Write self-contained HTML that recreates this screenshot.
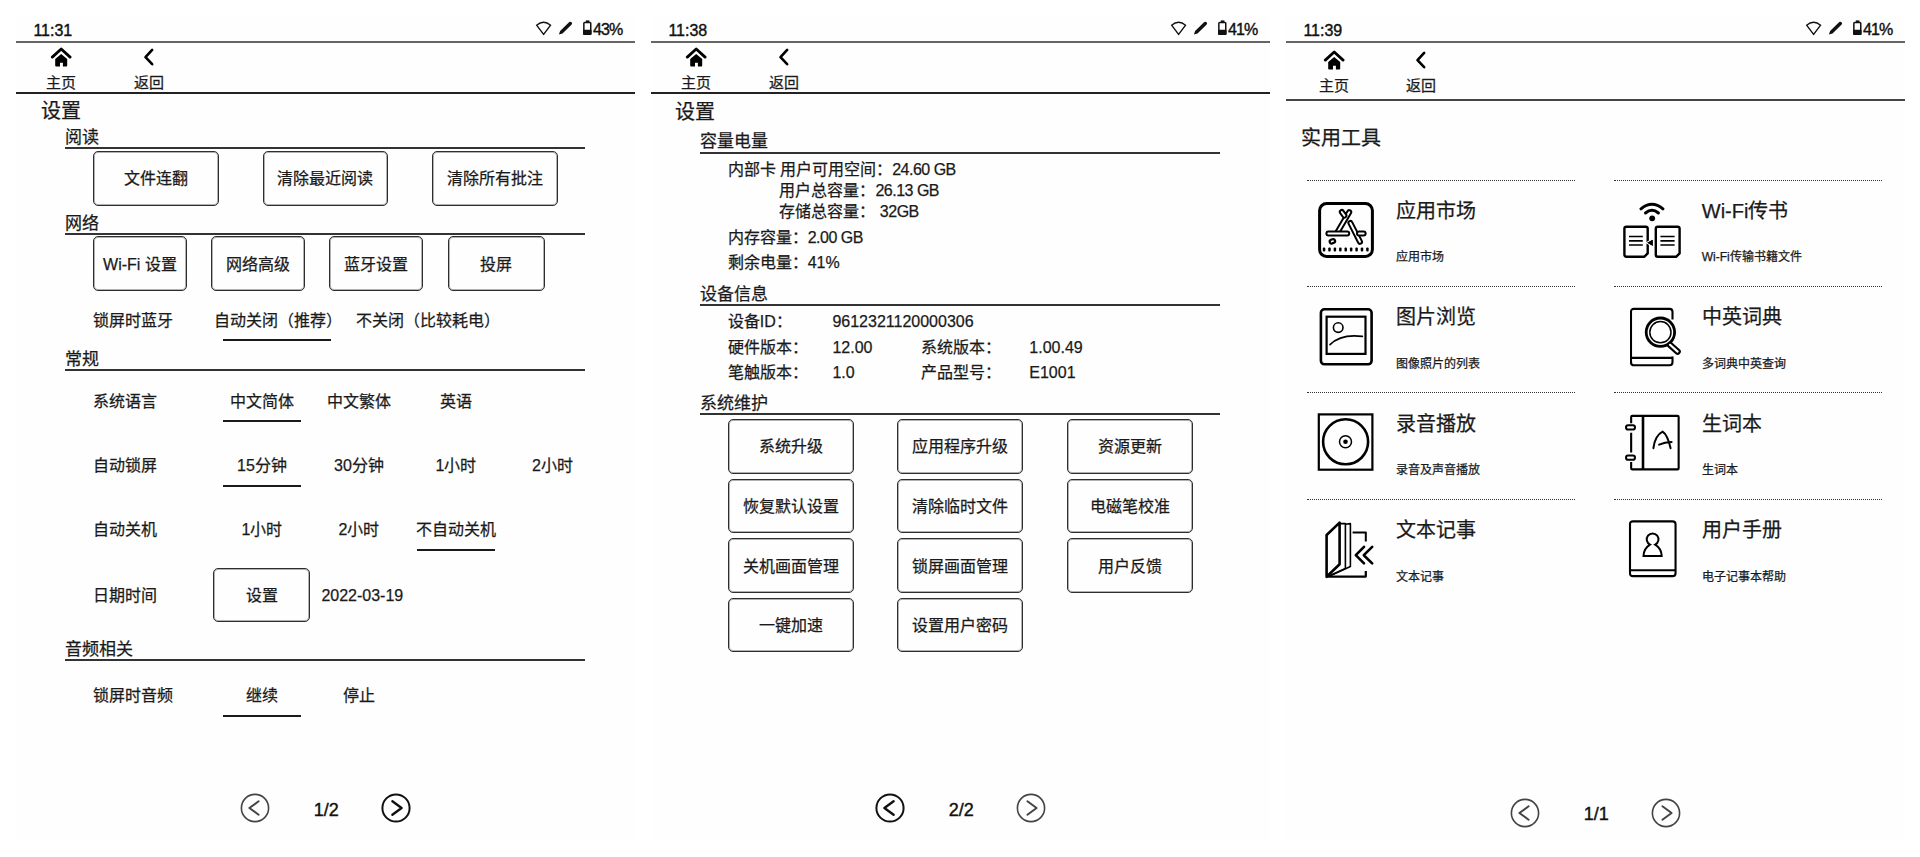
<!DOCTYPE html>
<html lang="zh-CN"><head><meta charset="utf-8"><title>settings</title>
<style>
html,body{margin:0;padding:0;background:#fff;}
body{width:1920px;height:857px;position:relative;overflow:hidden;font-family:"Liberation Sans",sans-serif;color:#1a1a1a;}
.panel{position:absolute;top:15px;height:825px;width:619px;background:#fefefe;}
.t{position:absolute;white-space:nowrap;-webkit-text-stroke-width:0.25px;}
.m{-webkit-text-stroke-width:0.4px;}
.b{position:absolute;display:block;}
.btn{position:absolute;border:1px solid #2e2e2e;box-shadow:inset 0 0 0 1px rgba(0,0,0,0.3);border-radius:5px;box-sizing:border-box;}
.dot{position:absolute;height:1px;border-top:1px dotted #333;}
</style></head><body>

<div class="panel" style="left:16px"></div>
<div class="panel" style="left:651px"></div>
<div class="panel" style="left:1286px"></div>
<div class="t m" style="left:33.4px;top:22.6px;font-size:16px;line-height:16px;color:#111;font-weight:normal;">11:31</div>
<div class="b" style="left:16.0px;top:41.0px;width:619.0px;height:2px;background:#666"></div>
<svg class="b" style="left:535.00px;top:21.00px" width="18" height="15" viewBox="0 0 18 15"><path d="M1.6 4.2 Q8.6 -1.6 15.6 4.2 L8.6 13.4 Z" fill="none" stroke="#111" stroke-width="1.4" stroke-linejoin="round"/></svg>
<svg class="b" style="left:557.00px;top:21.00px" width="16" height="16" viewBox="0 0 16 16"><path d="M1.9 13.5 L3.1 9.9 L12.3 1.1 A1.75 1.75 0 0 1 14.7 3.6 L5.5 12.4 Z" fill="#111"/></svg>
<svg class="b" style="left:582.00px;top:19.00px" width="11" height="17" viewBox="0 0 11 17"><rect x="3.8" y="1.4" width="3.6" height="2" fill="#111"/><rect x="1.85" y="3.55" width="6.9" height="11.7" rx="0.8" fill="none" stroke="#111" stroke-width="1.5"/><rect x="1.1" y="10.8" width="8.4" height="5.2" rx="0.8" fill="#111"/></svg>
<div class="t m" style="left:422.4px;top:22.4px;width:200px;text-align:right;font-size:16px;line-height:16px;color:#111;font-weight:normal;letter-spacing:-0.9px">43%</div>
<svg class="b" style="left:50.00px;top:46.00px" width="22" height="22" viewBox="0 0 22 22"><path d="M2.3 11.1 L11.2 3.0 L20.1 11.1" fill="none" stroke="#000" stroke-width="2.8" stroke-linecap="round" stroke-linejoin="round"/><path d="M11.2 7.9 L5.2 13.0 L5.2 19.6 Q5.2 20.5 6.1 20.5 L10 20.5 L10 16.8 L12.9 16.8 L12.9 20.5 L16.4 20.5 Q17.2 20.5 17.2 19.6 L17.2 13.0 Z" fill="#000"/></svg>
<svg class="b" style="left:142.00px;top:46.00px" width="14" height="22" viewBox="0 0 14 22"><path d="M10.15 3.9 L3.5 11.2 L10.15 18.2" fill="none" stroke="#000" stroke-width="2.6" stroke-linecap="round" stroke-linejoin="round"/></svg>
<div class="t " style="left:46.2px;top:75.0px;font-size:15px;line-height:15px;color:#1a1a1a;font-weight:normal;">主页</div>
<div class="t " style="left:133.7px;top:75.0px;font-size:15px;line-height:15px;color:#1a1a1a;font-weight:normal;">返回</div>
<div class="b" style="left:16.0px;top:92.0px;width:619.0px;height:2px;background:#222"></div>
<div class="t " style="left:41.0px;top:100.6px;font-size:20px;line-height:20px;color:#1a1a1a;font-weight:normal;">设置</div>
<div class="t " style="left:65.0px;top:129.1px;font-size:17px;line-height:17px;color:#1a1a1a;font-weight:normal;">阅读</div>
<div class="b" style="left:65.4px;top:147.0px;width:519.6px;height:2px;background:#333"></div>
<div class="btn" style="left:93.4px;top:150.5px;width:125.3px;height:55.0px"></div>
<div class="t " style="left:56.1px;top:171.2px;width:200px;text-align:center;font-size:16px;line-height:16px;color:#1a1a1a;font-weight:normal">文件连翻</div>
<div class="btn" style="left:262.7px;top:150.5px;width:125.1px;height:55.0px"></div>
<div class="t " style="left:225.2px;top:171.2px;width:200px;text-align:center;font-size:16px;line-height:16px;color:#1a1a1a;font-weight:normal">清除最近阅读</div>
<div class="btn" style="left:432.2px;top:150.5px;width:125.4px;height:55.0px"></div>
<div class="t " style="left:394.9px;top:171.2px;width:200px;text-align:center;font-size:16px;line-height:16px;color:#1a1a1a;font-weight:normal">清除所有批注</div>
<div class="t " style="left:65.0px;top:214.7px;font-size:17px;line-height:17px;color:#1a1a1a;font-weight:normal;">网络</div>
<div class="b" style="left:65.4px;top:233.0px;width:519.6px;height:2px;background:#333"></div>
<div class="btn" style="left:93.4px;top:236.2px;width:93.2px;height:55.2px"></div>
<div class="t " style="left:40.0px;top:257.0px;width:200px;text-align:center;font-size:16px;line-height:16px;color:#1a1a1a;font-weight:normal">Wi-Fi 设置</div>
<div class="btn" style="left:211.2px;top:236.2px;width:93.4px;height:55.2px"></div>
<div class="t " style="left:157.9px;top:257.0px;width:200px;text-align:center;font-size:16px;line-height:16px;color:#1a1a1a;font-weight:normal">网络高级</div>
<div class="btn" style="left:329.4px;top:236.2px;width:93.4px;height:55.2px"></div>
<div class="t " style="left:276.1px;top:257.0px;width:200px;text-align:center;font-size:16px;line-height:16px;color:#1a1a1a;font-weight:normal">蓝牙设置</div>
<div class="btn" style="left:447.5px;top:236.2px;width:97.1px;height:55.2px"></div>
<div class="t " style="left:396.1px;top:257.0px;width:200px;text-align:center;font-size:16px;line-height:16px;color:#1a1a1a;font-weight:normal">投屏</div>
<div class="t " style="left:92.7px;top:312.6px;font-size:16px;line-height:16px;color:#1a1a1a;font-weight:normal;">锁屏时蓝牙</div>
<div class="t " style="left:213.7px;top:312.6px;font-size:16px;line-height:16px;color:#1a1a1a;font-weight:normal;">自动关闭（推荐）</div>
<div class="t " style="left:355.7px;top:312.6px;font-size:16px;line-height:16px;color:#1a1a1a;font-weight:normal;">不关闭（比较耗电）</div>
<div class="b" style="left:223.0px;top:339.0px;width:107.8px;height:2px;background:#1a1a1a"></div>
<div class="t " style="left:65.0px;top:351.1px;font-size:17px;line-height:17px;color:#1a1a1a;font-weight:normal;">常规</div>
<div class="b" style="left:65.4px;top:369.0px;width:519.6px;height:2px;background:#333"></div>
<div class="t " style="left:92.7px;top:393.5px;font-size:16px;line-height:16px;color:#1a1a1a;font-weight:normal;">系统语言</div>
<div class="t " style="left:162.0px;top:393.5px;width:200px;text-align:center;font-size:16px;line-height:16px;color:#1a1a1a;font-weight:normal">中文简体</div>
<div class="t " style="left:259.0px;top:393.5px;width:200px;text-align:center;font-size:16px;line-height:16px;color:#1a1a1a;font-weight:normal">中文繁体</div>
<div class="t " style="left:356.0px;top:393.5px;width:200px;text-align:center;font-size:16px;line-height:16px;color:#1a1a1a;font-weight:normal">英语</div>
<div class="b" style="left:223.0px;top:420.0px;width:77.7px;height:2px;background:#1a1a1a"></div>
<div class="t " style="left:92.7px;top:458.0px;font-size:16px;line-height:16px;color:#1a1a1a;font-weight:normal;">自动锁屏</div>
<div class="t " style="left:162.0px;top:458.0px;width:200px;text-align:center;font-size:16px;line-height:16px;color:#1a1a1a;font-weight:normal">15分钟</div>
<div class="t " style="left:259.0px;top:458.0px;width:200px;text-align:center;font-size:16px;line-height:16px;color:#1a1a1a;font-weight:normal">30分钟</div>
<div class="t " style="left:356.0px;top:458.0px;width:200px;text-align:center;font-size:16px;line-height:16px;color:#1a1a1a;font-weight:normal">1小时</div>
<div class="t " style="left:452.4px;top:458.0px;width:200px;text-align:center;font-size:16px;line-height:16px;color:#1a1a1a;font-weight:normal">2小时</div>
<div class="b" style="left:223.0px;top:484.5px;width:77.7px;height:2px;background:#1a1a1a"></div>
<div class="t " style="left:92.7px;top:522.0px;font-size:16px;line-height:16px;color:#1a1a1a;font-weight:normal;">自动关机</div>
<div class="t " style="left:162.0px;top:522.0px;width:200px;text-align:center;font-size:16px;line-height:16px;color:#1a1a1a;font-weight:normal">1小时</div>
<div class="t " style="left:259.0px;top:522.0px;width:200px;text-align:center;font-size:16px;line-height:16px;color:#1a1a1a;font-weight:normal">2小时</div>
<div class="t " style="left:356.0px;top:522.0px;width:200px;text-align:center;font-size:16px;line-height:16px;color:#1a1a1a;font-weight:normal">不自动关机</div>
<div class="b" style="left:417.0px;top:549.0px;width:77.8px;height:2px;background:#1a1a1a"></div>
<div class="t " style="left:92.7px;top:587.8px;font-size:16px;line-height:16px;color:#1a1a1a;font-weight:normal;">日期时间</div>
<div class="btn" style="left:213.3px;top:567.5px;width:97.0px;height:54.8px"></div>
<div class="t " style="left:161.8px;top:588.1px;width:200px;text-align:center;font-size:16px;line-height:16px;color:#1a1a1a;font-weight:normal">设置</div>
<div class="t " style="left:321.4px;top:587.8px;font-size:16px;line-height:16px;color:#1a1a1a;font-weight:normal;">2022-03-19</div>
<div class="t " style="left:65.0px;top:641.1px;font-size:17px;line-height:17px;color:#1a1a1a;font-weight:normal;">音频相关</div>
<div class="b" style="left:65.4px;top:659.0px;width:519.6px;height:2px;background:#333"></div>
<div class="t " style="left:92.7px;top:688.0px;font-size:16px;line-height:16px;color:#1a1a1a;font-weight:normal;">锁屏时音频</div>
<div class="t " style="left:162.0px;top:688.0px;width:200px;text-align:center;font-size:16px;line-height:16px;color:#1a1a1a;font-weight:normal">继续</div>
<div class="t " style="left:259.0px;top:688.0px;width:200px;text-align:center;font-size:16px;line-height:16px;color:#1a1a1a;font-weight:normal">停止</div>
<div class="b" style="left:223.0px;top:715.0px;width:77.7px;height:2px;background:#1a1a1a"></div>
<svg class="b" style="left:239.80px;top:793.30px" width="30" height="30" viewBox="0 0 30 30"><circle cx="15" cy="15" r="13.6" fill="none" stroke="#444" stroke-width="1.6"/><path d="M18.6 8.3 L9.4 15 L18.6 21.7" fill="none" stroke="#444" stroke-width="2.0" stroke-linecap="round" stroke-linejoin="round"/></svg>
<svg class="b" style="left:381.40px;top:793.30px" width="30" height="30" viewBox="0 0 30 30"><circle cx="15" cy="15" r="13.6" fill="none" stroke="#111" stroke-width="2.0"/><path d="M11.4 8.3 L20.6 15 L11.4 21.7" fill="none" stroke="#111" stroke-width="2.4" stroke-linecap="round" stroke-linejoin="round"/></svg>
<div class="t m" style="left:226.3px;top:800.8px;width:200px;text-align:center;font-size:18px;line-height:18px;color:#111;font-weight:normal">1/2</div>
<div class="t m" style="left:668.4px;top:22.6px;font-size:16px;line-height:16px;color:#111;font-weight:normal;">11:38</div>
<div class="b" style="left:651.0px;top:41.0px;width:619.0px;height:2px;background:#666"></div>
<svg class="b" style="left:1170.00px;top:21.00px" width="18" height="15" viewBox="0 0 18 15"><path d="M1.6 4.2 Q8.6 -1.6 15.6 4.2 L8.6 13.4 Z" fill="none" stroke="#111" stroke-width="1.4" stroke-linejoin="round"/></svg>
<svg class="b" style="left:1192.00px;top:21.00px" width="16" height="16" viewBox="0 0 16 16"><path d="M1.9 13.5 L3.1 9.9 L12.3 1.1 A1.75 1.75 0 0 1 14.7 3.6 L5.5 12.4 Z" fill="#111"/></svg>
<svg class="b" style="left:1217.00px;top:19.00px" width="11" height="17" viewBox="0 0 11 17"><rect x="3.8" y="1.4" width="3.6" height="2" fill="#111"/><rect x="1.85" y="3.55" width="6.9" height="11.7" rx="0.8" fill="none" stroke="#111" stroke-width="1.5"/><rect x="1.1" y="10.8" width="8.4" height="5.2" rx="0.8" fill="#111"/></svg>
<div class="t m" style="left:1057.4px;top:22.4px;width:200px;text-align:right;font-size:16px;line-height:16px;color:#111;font-weight:normal;letter-spacing:-0.9px">41%</div>
<svg class="b" style="left:685.00px;top:46.00px" width="22" height="22" viewBox="0 0 22 22"><path d="M2.3 11.1 L11.2 3.0 L20.1 11.1" fill="none" stroke="#000" stroke-width="2.8" stroke-linecap="round" stroke-linejoin="round"/><path d="M11.2 7.9 L5.2 13.0 L5.2 19.6 Q5.2 20.5 6.1 20.5 L10 20.5 L10 16.8 L12.9 16.8 L12.9 20.5 L16.4 20.5 Q17.2 20.5 17.2 19.6 L17.2 13.0 Z" fill="#000"/></svg>
<svg class="b" style="left:777.00px;top:46.00px" width="14" height="22" viewBox="0 0 14 22"><path d="M10.15 3.9 L3.5 11.2 L10.15 18.2" fill="none" stroke="#000" stroke-width="2.6" stroke-linecap="round" stroke-linejoin="round"/></svg>
<div class="t " style="left:681.2px;top:75.0px;font-size:15px;line-height:15px;color:#1a1a1a;font-weight:normal;">主页</div>
<div class="t " style="left:768.7px;top:75.0px;font-size:15px;line-height:15px;color:#1a1a1a;font-weight:normal;">返回</div>
<div class="b" style="left:651.0px;top:92.0px;width:619.0px;height:2px;background:#222"></div>
<div class="t " style="left:675.4px;top:102.0px;font-size:20px;line-height:20px;color:#1a1a1a;font-weight:normal;">设置</div>
<div class="t " style="left:700.0px;top:133.4px;font-size:17px;line-height:17px;color:#1a1a1a;font-weight:normal;">容量电量</div>
<div class="b" style="left:700.4px;top:151.5px;width:519.6px;height:2px;background:#333"></div>
<div class="t " style="left:727.7px;top:161.5px;font-size:16px;line-height:16px;color:#1a1a1a;font-weight:normal;">内部卡 用户可用空间：<span style="letter-spacing:-0.5px">24.60 GB</span></div>
<div class="t " style="left:779.4px;top:182.8px;font-size:16px;line-height:16px;color:#1a1a1a;font-weight:normal;">用户总容量：<span style="letter-spacing:-0.5px">26.13 GB</span></div>
<div class="t " style="left:779.4px;top:203.8px;font-size:16px;line-height:16px;color:#1a1a1a;font-weight:normal;">存储总容量： <span style="letter-spacing:-0.5px">32GB</span></div>
<div class="t " style="left:727.7px;top:229.6px;font-size:16px;line-height:16px;color:#1a1a1a;font-weight:normal;">内存容量：<span style="letter-spacing:-0.5px">2.00 GB</span></div>
<div class="t " style="left:727.7px;top:255.1px;font-size:16px;line-height:16px;color:#1a1a1a;font-weight:normal;">剩余电量：41%</div>
<div class="t " style="left:700.0px;top:286.0px;font-size:17px;line-height:17px;color:#1a1a1a;font-weight:normal;">设备信息</div>
<div class="b" style="left:700.4px;top:303.5px;width:519.6px;height:2px;background:#333"></div>
<div class="t " style="left:727.8px;top:313.9px;font-size:16px;line-height:16px;color:#1a1a1a;font-weight:normal;">设备ID：</div>
<div class="t " style="left:832.4px;top:313.9px;font-size:16px;line-height:16px;color:#1a1a1a;font-weight:normal;">9612321120000306</div>
<div class="t " style="left:727.8px;top:339.7px;font-size:16px;line-height:16px;color:#1a1a1a;font-weight:normal;">硬件版本：</div>
<div class="t " style="left:832.4px;top:339.7px;font-size:16px;line-height:16px;color:#1a1a1a;font-weight:normal;">12.00</div>
<div class="t " style="left:921.0px;top:339.7px;font-size:16px;line-height:16px;color:#1a1a1a;font-weight:normal;">系统版本：</div>
<div class="t " style="left:1029.3px;top:339.7px;font-size:16px;line-height:16px;color:#1a1a1a;font-weight:normal;">1.00.49</div>
<div class="t " style="left:727.8px;top:365.0px;font-size:16px;line-height:16px;color:#1a1a1a;font-weight:normal;">笔触版本：</div>
<div class="t " style="left:832.4px;top:365.0px;font-size:16px;line-height:16px;color:#1a1a1a;font-weight:normal;">1.0</div>
<div class="t " style="left:921.0px;top:365.0px;font-size:16px;line-height:16px;color:#1a1a1a;font-weight:normal;">产品型号：</div>
<div class="t " style="left:1029.3px;top:365.0px;font-size:16px;line-height:16px;color:#1a1a1a;font-weight:normal;">E1001</div>
<div class="t " style="left:700.0px;top:395.1px;font-size:17px;line-height:17px;color:#1a1a1a;font-weight:normal;">系统维护</div>
<div class="b" style="left:700.4px;top:412.6px;width:519.6px;height:2px;background:#333"></div>
<div class="btn" style="left:728.2px;top:418.8px;width:125.4px;height:54.8px"></div>
<div class="t " style="left:690.9px;top:439.4px;width:200px;text-align:center;font-size:16px;line-height:16px;color:#1a1a1a;font-weight:normal">系统升级</div>
<div class="btn" style="left:897.4px;top:418.8px;width:125.4px;height:54.8px"></div>
<div class="t " style="left:860.1px;top:439.4px;width:200px;text-align:center;font-size:16px;line-height:16px;color:#1a1a1a;font-weight:normal">应用程序升级</div>
<div class="btn" style="left:1067.2px;top:418.8px;width:125.4px;height:54.8px"></div>
<div class="t " style="left:1029.9px;top:439.4px;width:200px;text-align:center;font-size:16px;line-height:16px;color:#1a1a1a;font-weight:normal">资源更新</div>
<div class="btn" style="left:728.2px;top:478.6px;width:125.4px;height:54.8px"></div>
<div class="t " style="left:690.9px;top:499.2px;width:200px;text-align:center;font-size:16px;line-height:16px;color:#1a1a1a;font-weight:normal">恢复默认设置</div>
<div class="btn" style="left:897.4px;top:478.6px;width:125.4px;height:54.8px"></div>
<div class="t " style="left:860.1px;top:499.2px;width:200px;text-align:center;font-size:16px;line-height:16px;color:#1a1a1a;font-weight:normal">清除临时文件</div>
<div class="btn" style="left:1067.2px;top:478.6px;width:125.4px;height:54.8px"></div>
<div class="t " style="left:1029.9px;top:499.2px;width:200px;text-align:center;font-size:16px;line-height:16px;color:#1a1a1a;font-weight:normal">电磁笔校准</div>
<div class="btn" style="left:728.2px;top:538.4px;width:125.4px;height:54.8px"></div>
<div class="t " style="left:690.9px;top:559.0px;width:200px;text-align:center;font-size:16px;line-height:16px;color:#1a1a1a;font-weight:normal">关机画面管理</div>
<div class="btn" style="left:897.4px;top:538.4px;width:125.4px;height:54.8px"></div>
<div class="t " style="left:860.1px;top:559.0px;width:200px;text-align:center;font-size:16px;line-height:16px;color:#1a1a1a;font-weight:normal">锁屏画面管理</div>
<div class="btn" style="left:1067.2px;top:538.4px;width:125.4px;height:54.8px"></div>
<div class="t " style="left:1029.9px;top:559.0px;width:200px;text-align:center;font-size:16px;line-height:16px;color:#1a1a1a;font-weight:normal">用户反馈</div>
<div class="btn" style="left:728.2px;top:597.6px;width:125.4px;height:54.8px"></div>
<div class="t " style="left:690.9px;top:618.2px;width:200px;text-align:center;font-size:16px;line-height:16px;color:#1a1a1a;font-weight:normal">一键加速</div>
<div class="btn" style="left:897.4px;top:597.6px;width:125.4px;height:54.8px"></div>
<div class="t " style="left:860.1px;top:618.2px;width:200px;text-align:center;font-size:16px;line-height:16px;color:#1a1a1a;font-weight:normal">设置用户密码</div>
<svg class="b" style="left:874.80px;top:793.30px" width="30" height="30" viewBox="0 0 30 30"><circle cx="15" cy="15" r="13.6" fill="none" stroke="#111" stroke-width="2.0"/><path d="M18.6 8.3 L9.4 15 L18.6 21.7" fill="none" stroke="#111" stroke-width="2.4" stroke-linecap="round" stroke-linejoin="round"/></svg>
<svg class="b" style="left:1016.40px;top:793.30px" width="30" height="30" viewBox="0 0 30 30"><circle cx="15" cy="15" r="13.6" fill="none" stroke="#444" stroke-width="1.6"/><path d="M11.4 8.3 L20.6 15 L11.4 21.7" fill="none" stroke="#444" stroke-width="2.0" stroke-linecap="round" stroke-linejoin="round"/></svg>
<div class="t m" style="left:861.3px;top:800.8px;width:200px;text-align:center;font-size:18px;line-height:18px;color:#111;font-weight:normal">2/2</div>
<div class="t m" style="left:1303.4px;top:22.6px;font-size:16px;line-height:16px;color:#111;font-weight:normal;">11:39</div>
<div class="b" style="left:1286.0px;top:41.0px;width:619.0px;height:2px;background:#666"></div>
<svg class="b" style="left:1805.00px;top:21.00px" width="18" height="15" viewBox="0 0 18 15"><path d="M1.6 4.2 Q8.6 -1.6 15.6 4.2 L8.6 13.4 Z" fill="none" stroke="#111" stroke-width="1.4" stroke-linejoin="round"/></svg>
<svg class="b" style="left:1827.00px;top:21.00px" width="16" height="16" viewBox="0 0 16 16"><path d="M1.9 13.5 L3.1 9.9 L12.3 1.1 A1.75 1.75 0 0 1 14.7 3.6 L5.5 12.4 Z" fill="#111"/></svg>
<svg class="b" style="left:1852.00px;top:19.00px" width="11" height="17" viewBox="0 0 11 17"><rect x="3.8" y="1.4" width="3.6" height="2" fill="#111"/><rect x="1.85" y="3.55" width="6.9" height="11.7" rx="0.8" fill="none" stroke="#111" stroke-width="1.5"/><rect x="1.1" y="10.8" width="8.4" height="5.2" rx="0.8" fill="#111"/></svg>
<div class="t m" style="left:1692.4px;top:22.4px;width:200px;text-align:right;font-size:16px;line-height:16px;color:#111;font-weight:normal;letter-spacing:-0.9px">41%</div>
<svg class="b" style="left:1323.00px;top:49.20px" width="22" height="22" viewBox="0 0 22 22"><path d="M2.3 11.1 L11.2 3.0 L20.1 11.1" fill="none" stroke="#000" stroke-width="2.8" stroke-linecap="round" stroke-linejoin="round"/><path d="M11.2 7.9 L5.2 13.0 L5.2 19.6 Q5.2 20.5 6.1 20.5 L10 20.5 L10 16.8 L12.9 16.8 L12.9 20.5 L16.4 20.5 Q17.2 20.5 17.2 19.6 L17.2 13.0 Z" fill="#000"/></svg>
<svg class="b" style="left:1413.50px;top:49.20px" width="14" height="22" viewBox="0 0 14 22"><path d="M10.15 3.9 L3.5 11.2 L10.15 18.2" fill="none" stroke="#000" stroke-width="2.6" stroke-linecap="round" stroke-linejoin="round"/></svg>
<div class="t " style="left:1319.0px;top:77.8px;font-size:15px;line-height:15px;color:#1a1a1a;font-weight:normal;">主页</div>
<div class="t " style="left:1405.6px;top:77.8px;font-size:15px;line-height:15px;color:#1a1a1a;font-weight:normal;">返回</div>
<div class="b" style="left:1286.0px;top:99.0px;width:619.0px;height:2px;background:#444"></div>
<div class="t " style="left:1300.9px;top:128.3px;font-size:20px;line-height:20px;color:#1a1a1a;font-weight:normal;">实用工具</div>
<div class="dot" style="left:1307.4px;top:179.5px;width:268px"></div>
<div class="t " style="left:1395.6px;top:201.0px;font-size:20px;line-height:20px;color:#1a1a1a;font-weight:normal;">应用市场</div>
<div class="t " style="left:1395.6px;top:251.3px;font-size:12px;line-height:12px;color:#1a1a1a;font-weight:normal;">应用市场</div>
<svg class="b" style="left:1317.80px;top:201.90px" width="56" height="56" viewBox="0 0 56 56"><rect x="1.6" y="1.6" width="52.8" height="52.8" rx="7" fill="none" stroke="#000" stroke-width="3"/><g fill="none" stroke="#000" stroke-linecap="round"><path d="M31.2 10.2 L19.6 30" stroke-width="6.0"/><path d="M31.2 10.2 L19.6 30" stroke="#fff" stroke-width="2.0"/><path d="M23.8 10 L26.4 13.6" stroke-width="6.0"/><path d="M23.8 10 L26.4 13.6" stroke="#fff" stroke-width="2.0"/><path d="M32.4 21 L42 39.8" stroke-width="6.0"/><path d="M32.4 21 L42 39.8" stroke="#fff" stroke-width="2.0"/><path d="M10.4 31.6 L29.2 31.6" stroke-width="6.0"/><path d="M10.4 31.6 L29.2 31.6" stroke="#fff" stroke-width="2.0"/><path d="M41 31.6 L45.6 31.6" stroke-width="6.0"/><path d="M41 31.6 L45.6 31.6" stroke="#fff" stroke-width="2.0"/><path d="M13.6 39.6 L15.2 39" stroke-width="6.0"/><path d="M13.6 39.6 L15.2 39" stroke="#fff" stroke-width="1.6"/></g><g fill="#000"><rect x="4.80" y="45.4" width="2.5" height="4" rx="1"/><rect x="10.22" y="45.4" width="2.5" height="4" rx="1"/><rect x="15.64" y="45.4" width="2.5" height="4" rx="1"/><rect x="21.06" y="45.4" width="2.5" height="4" rx="1"/><rect x="26.48" y="45.4" width="2.5" height="4" rx="1"/><rect x="31.90" y="45.4" width="2.5" height="4" rx="1"/><rect x="37.32" y="45.4" width="2.5" height="4" rx="1"/><rect x="42.74" y="45.4" width="2.5" height="4" rx="1"/><rect x="48.16" y="45.4" width="2.5" height="4" rx="1"/></g></svg>
<div class="dot" style="left:1613.6px;top:179.5px;width:268px"></div>
<div class="t " style="left:1701.8px;top:201.0px;font-size:20px;line-height:20px;color:#1a1a1a;font-weight:normal;">Wi-Fi传书</div>
<div class="t " style="left:1701.8px;top:251.3px;font-size:12px;line-height:12px;color:#1a1a1a;font-weight:normal;">Wi-Fi传输书籍文件</div>
<svg class="b" style="left:1620.00px;top:198.00px" width="64" height="62" viewBox="0 0 64 62"><g fill="none" stroke="#000" stroke-linecap="round" stroke-width="3"><path d="M21 10.8 Q31.95 1.8 42.9 10.8"/><path d="M25.5 15 Q31.95 9.6 38.4 15"/></g><circle cx="32.2" cy="20.3" r="2.9" fill="#000"/><path d="M4.4 30.8 Q4.4 28.8 6.4 28.8 L25.7 28.8 Q27.7 28.8 27.7 30.8 L27.7 55.4 L24.4 58.7 L6.4 58.7 Q4.4 58.7 4.4 56.7 Z" fill="none" stroke="#000" stroke-width="2.4" stroke-linejoin="round"/><path d="M35.8 30.8 Q35.8 28.8 37.8 28.8 L57.6 28.8 Q59.6 28.8 59.6 30.8 L59.6 55.4 L56.3 58.7 L37.8 58.7 Q35.8 58.7 35.8 56.7 Z" fill="none" stroke="#000" stroke-width="2.4" stroke-linejoin="round"/><g stroke="#000" stroke-width="1.7"><path d="M9 38.5 H22.8 M9 42.9 H22.8 M9 47 H22.8 M40.4 38.5 H54.6 M40.4 42.9 H54.6 M40.4 47 H54.6"/></g><path d="M26.4 44.8 L33.4 40.6 L33.4 49 Z" fill="#000" stroke="#fff" stroke-width="1.2" stroke-linejoin="round"/><path d="M27.2 44.8 L32.6 41.8 L32.6 47.8 Z" fill="#000"/></svg>
<div class="dot" style="left:1307.4px;top:285.9px;width:268px"></div>
<div class="t " style="left:1395.6px;top:307.4px;font-size:20px;line-height:20px;color:#1a1a1a;font-weight:normal;">图片浏览</div>
<div class="t " style="left:1395.6px;top:357.7px;font-size:12px;line-height:12px;color:#1a1a1a;font-weight:normal;">图像照片的列表</div>
<svg class="b" style="left:1319.00px;top:307.80px" width="55" height="58" viewBox="0 0 55 58"><rect x="1.9" y="1.3" width="50.7" height="55" rx="3.5" fill="none" stroke="#000" stroke-width="2.6"/><rect x="7.6" y="8.7" width="38.9" height="37.2" fill="none" stroke="#000" stroke-width="2.2"/><circle cx="19.2" cy="19.6" r="4.8" fill="none" stroke="#000" stroke-width="1.6"/><path d="M11 36.6 Q22 25.6 43.4 28.4" fill="none" stroke="#000" stroke-width="1.6" stroke-linecap="round"/></svg>
<div class="dot" style="left:1613.6px;top:285.9px;width:268px"></div>
<div class="t " style="left:1701.8px;top:307.4px;font-size:20px;line-height:20px;color:#1a1a1a;font-weight:normal;">中英词典</div>
<div class="t " style="left:1701.8px;top:357.7px;font-size:12px;line-height:12px;color:#1a1a1a;font-weight:normal;">多词典中英查询</div>
<svg class="b" style="left:1629.90px;top:300.20px" width="54" height="68" viewBox="0 0 54 68"><g fill="none" stroke="#000" stroke-width="2.1"><path d="M42.5 19.5 L42.5 11.8 Q42.5 8.9 39.6 8.9 L3.9 8.9 Q1 8.9 1 11.8 L1 62.3 Q1 65.2 3.9 65.2 L39.6 65.2 Q42.5 65.2 42.5 62.3 L42.5 56.4"/><path d="M1 57.9 L42.5 57.9"/></g><circle cx="30.4" cy="32.2" r="14.2" fill="none" stroke="#000" stroke-width="2.8"/><circle cx="30.4" cy="32.2" r="10.6" fill="none" stroke="#000" stroke-width="1.5"/><path d="M40 44.8 L47.6 51.6" fill="none" stroke="#000" stroke-width="6.4" stroke-linecap="round"/><path d="M40 44.8 L47.6 51.6" fill="none" stroke="#fff" stroke-width="2.2" stroke-linecap="round"/></svg>
<div class="dot" style="left:1307.4px;top:392.3px;width:268px"></div>
<div class="t " style="left:1395.6px;top:413.8px;font-size:20px;line-height:20px;color:#1a1a1a;font-weight:normal;">录音播放</div>
<div class="t " style="left:1395.6px;top:464.1px;font-size:12px;line-height:12px;color:#1a1a1a;font-weight:normal;">录音及声音播放</div>
<svg class="b" style="left:1317.00px;top:412.60px" width="57" height="58" viewBox="0 0 57 58"><rect x="1.8" y="1.4" width="53.6" height="55.3" fill="none" stroke="#000" stroke-width="2.2"/><circle cx="28.6" cy="28.8" r="22.5" fill="none" stroke="#000" stroke-width="2.6"/><circle cx="28.5" cy="28.7" r="6" fill="none" stroke="#000" stroke-width="1.5"/><circle cx="28.5" cy="28.7" r="2.3" fill="#000"/></svg>
<div class="dot" style="left:1613.6px;top:392.3px;width:268px"></div>
<div class="t " style="left:1701.8px;top:413.8px;font-size:20px;line-height:20px;color:#1a1a1a;font-weight:normal;">生词本</div>
<div class="t " style="left:1701.8px;top:464.1px;font-size:12px;line-height:12px;color:#1a1a1a;font-weight:normal;">生词本</div>
<svg class="b" style="left:1622.60px;top:413.20px" width="60" height="60" viewBox="0 0 60 60"><path d="M8.15 10.2 L8.15 4.1 Q8.15 2.9 9.35 2.9 L54.45 2.9 Q55.65 2.9 55.65 4.1 L55.65 55.15 Q55.65 56.35 54.45 56.35 L9.35 56.35 Q8.15 56.35 8.15 55.15 L8.15 49.1 M8.15 19.8 L8.15 39.5" fill="none" stroke="#000" stroke-width="2.1"/><path d="M20 2.9 L20 56.35" stroke="#000" stroke-width="2.6"/><rect x="3" y="12.3" width="9" height="4.2" rx="2.1" fill="#fff" stroke="#000" stroke-width="2"/><rect x="3" y="42.6" width="9" height="4.2" rx="2.1" fill="#fff" stroke="#000" stroke-width="2"/><path d="M30.4 35.2 Q32 22.4 39.6 18.6 Q44.4 21.6 47.6 35.2 M36.1 31.6 Q41.6 29.4 48.6 29" fill="none" stroke="#000" stroke-width="2" stroke-linecap="round"/></svg>
<div class="dot" style="left:1307.4px;top:498.7px;width:268px"></div>
<div class="t " style="left:1395.6px;top:520.2px;font-size:20px;line-height:20px;color:#1a1a1a;font-weight:normal;">文本记事</div>
<div class="t " style="left:1395.6px;top:570.5px;font-size:12px;line-height:12px;color:#1a1a1a;font-weight:normal;">文本记事</div>
<svg class="b" style="left:1322.90px;top:518.60px" width="52" height="62" viewBox="0 0 52 62"><g fill="none" stroke="#000" stroke-linejoin="round"><path d="M3.6 16 L16.6 3.6 L16.6 45.2 L3.6 57.8 Z" stroke-width="2.6"/><path d="M16.6 4.6 L22.4 4.6 L22.4 49.4 L5 57.4" stroke-width="1.6"/><path d="M22.4 5.2 L27.4 4.6 L27.4 47.6 L6 57.2" stroke-width="1.6"/><path d="M3.6 57.6 L42.8 57.6 L42.8 52" stroke-width="2.2"/><path d="M29.6 13.4 L42.8 13.4 L42.8 22.4" stroke-width="2"/></g><g fill="none" stroke="#000" stroke-width="2.6" stroke-linecap="round" stroke-linejoin="round"><path d="M41 27.8 L32.8 36.2 L41 44.4"/><path d="M49.2 27.8 L40.8 36.2 L49.2 44.4"/></g></svg>
<div class="dot" style="left:1613.6px;top:498.7px;width:268px"></div>
<div class="t " style="left:1701.8px;top:520.2px;font-size:20px;line-height:20px;color:#1a1a1a;font-weight:normal;">用户手册</div>
<div class="t " style="left:1701.8px;top:570.5px;font-size:12px;line-height:12px;color:#1a1a1a;font-weight:normal;">电子记事本帮助</div>
<svg class="b" style="left:1627.60px;top:519.20px" width="50" height="60" viewBox="0 0 50 60"><g fill="none" stroke="#000" stroke-width="2.1"><path d="M5 2.35 L44.55 2.35 Q47.55 2.35 47.55 5.35 L47.55 54.15 Q47.55 57.15 44.55 57.15 L5 57.15 Q2 57.15 2 54.15 L2 5.35 Q2 2.35 5 2.35 Z"/><path d="M2 51.2 L47.55 51.2"/><path d="M22 25.6 A5.9 5.9 0 1 1 27.2 25.6 Q33.4 29.4 33.7 37 L15.5 37 Q15.8 29.4 22 25.6 Z" stroke-width="2"/></g></svg>
<svg class="b" style="left:1509.80px;top:797.50px" width="30" height="30" viewBox="0 0 30 30"><circle cx="15" cy="15" r="13.6" fill="none" stroke="#444" stroke-width="1.6"/><path d="M18.6 8.3 L9.4 15 L18.6 21.7" fill="none" stroke="#444" stroke-width="2.0" stroke-linecap="round" stroke-linejoin="round"/></svg>
<svg class="b" style="left:1651.40px;top:797.50px" width="30" height="30" viewBox="0 0 30 30"><circle cx="15" cy="15" r="13.6" fill="none" stroke="#444" stroke-width="1.6"/><path d="M11.4 8.3 L20.6 15 L11.4 21.7" fill="none" stroke="#444" stroke-width="2.0" stroke-linecap="round" stroke-linejoin="round"/></svg>
<div class="t m" style="left:1496.3px;top:805.0px;width:200px;text-align:center;font-size:18px;line-height:18px;color:#111;font-weight:normal">1/1</div>
</body></html>
